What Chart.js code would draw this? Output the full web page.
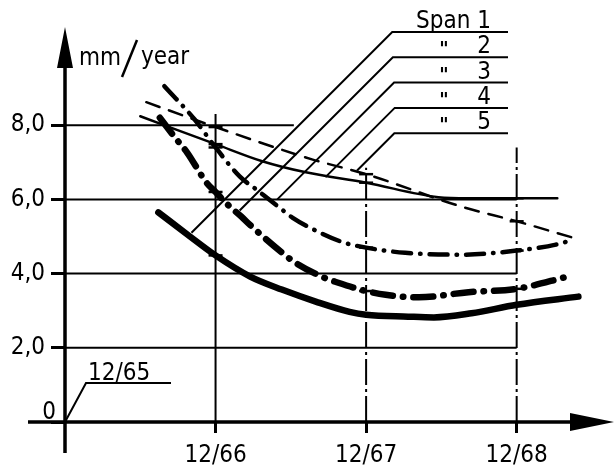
<!DOCTYPE html>
<html lang="en">
<head>
<meta charset="UTF-8">
<script src="https://cdn.jsdelivr.net/npm/chart.js"></script>
<style>
  body { margin: 0; background: #fff; }
  .wrap { width: 616px; height: 471px; position: relative; }
</style>
</head>
<body>
<div class="wrap"><canvas id="myChart"></canvas></div>
<script>
  // years after 12/65, mm/year
  const span1X = [0.62, 0.83, 1.0, 1.23, 1.44, 1.67, 1.89, 2.0, 2.28, 2.45, 2.7, 3.0, 3.41];
  const span1Y = [5.65, 5.0, 4.49, 3.92, 3.57, 3.24, 2.97, 2.89, 2.84, 2.82, 2.93, 3.16, 3.38];
  const span2X = [0.63, 0.74, 0.81, 0.94, 1.0, 1.07, 1.17, 1.24, 1.44, 1.52, 1.72, 1.81, 2.0, 2.13, 2.35, 2.68, 3.0, 3.34];
  const span2Y = [8.2, 7.62, 7.27, 6.45, 6.2, 5.9, 5.54, 5.27, 4.57, 4.32, 3.89, 3.76, 3.53, 3.43, 3.36, 3.5, 3.59, 3.92];
  const span3X = [0.66, 0.86, 1.0, 1.16, 1.27, 1.44, 1.51, 1.69, 1.85, 2.0, 2.26, 2.64, 3.0, 3.26, 3.38];
  const span3Y = [9.05, 8.16, 7.4, 6.62, 6.27, 5.73, 5.51, 5.11, 4.84, 4.7, 4.56, 4.51, 4.62, 4.78, 4.92];
  const span4X = [0.5, 1.0, 1.31, 1.6, 2.0, 2.48, 2.68, 3.0, 3.27];
  const span4Y = [8.24, 7.49, 7.03, 6.73, 6.45, 6.06, 6.03, 6.03, 6.03];
  const span5X = [0.54, 1.0, 1.64, 2.0, 2.63, 3.0, 3.39];
  const span5Y = [8.62, 7.95, 7.08, 6.68, 5.81, 5.41, 4.95];

  const spanNames = ['Span 1', 'Span 2', 'Span 3', 'Span 4', 'Span 5'];
  const yTicks = [0, 2, 4, 6, 8];
  const yTickLabels = ['0', '2,0', '4,0', '6,0', '8,0'];
  const xTicks = [1, 2, 3];
  const xTickLabels = ['12/66', '12/67', '12/68'];
  const originLabel = '12/65';
  const unitLabel = ['mm', 'year'];

  const FONT = "'DejaVu Sans Condensed', 'Liberation Sans Narrow', 'DejaVu Sans', sans-serif";
  const pts = (xs, ys) => xs.map((x, i) => ({ x: x, y: ys[i] }));
  const crossAtYear = c => Number.isInteger(c.raw.x) ? 7 : 0;

  const styles = [
    { borderWidth: 6.5, borderDash: [] },
    { borderWidth: 6.5, borderDash: [20, 10, 0.5, 10] },
    { borderWidth: 4.5, borderDash: [18, 9, 0.5, 9] },
    { borderWidth: 2.5, borderDash: [] },
    { borderWidth: 2.5, borderDash: [14, 10] }
  ];
  const series = [pts(span1X, span1Y), pts(span2X, span2Y), pts(span3X, span3Y), pts(span4X, span4Y), pts(span5X, span5Y)];

  // custom grid lines, axes with arrows, unit label, legend with leaders
  const drawing = {
    id: 'drawing',
    beforeDatasetsDraw(chart) {
      const c = chart.ctx, x = chart.scales.x, y = chart.scales.y;
      c.save();
      c.strokeStyle = '#000';
      c.lineWidth = 2;
      const hEnd = { 2: 3, 4: 3, 6: 3, 8: 1.52 };
      [2, 4, 6, 8].forEach(v => {
        c.beginPath();
        c.moveTo(x.getPixelForValue(0), y.getPixelForValue(v));
        c.lineTo(x.getPixelForValue(hEnd[v]), y.getPixelForValue(v));
        c.stroke();
      });
      const vTop = { 1: 8.3, 2: 6.85, 3: 7.4 };
      xTicks.forEach(v => {
        c.setLineDash(v === 1 ? [] : [26, 4, 3, 4]);
        c.beginPath();
        c.moveTo(x.getPixelForValue(v), y.getPixelForValue(0));
        c.lineTo(x.getPixelForValue(v), y.getPixelForValue(vTop[v]));
        c.stroke();
      });
      c.restore();
    },
    afterDraw(chart) {
      const c = chart.ctx, x = chart.scales.x, y = chart.scales.y;
      const ox = x.getPixelForValue(0), oy = y.getPixelForValue(0);
      c.save();
      c.fillStyle = '#000';
      c.strokeStyle = '#000';
      // axes
      c.lineWidth = 3.5;
      c.beginPath();
      c.moveTo(ox, oy + 31); c.lineTo(ox, 60);
      c.moveTo(28, oy); c.lineTo(575, oy);
      c.stroke();
      c.beginPath();
      c.moveTo(ox, 27); c.lineTo(ox - 8, 68); c.lineTo(ox + 8, 68); c.closePath();
      c.moveTo(614, oy); c.lineTo(570, oy - 9); c.lineTo(570, oy + 9); c.closePath();
      c.fill();

      c.font = '24px ' + FONT;
      c.textBaseline = 'alphabetic';
      // zero label sits above the x axis
      c.textAlign = 'right';
      c.fillText(yTickLabels[0], 56, oy - 3);

      // unit label
      c.textAlign = 'left';
      c.fillText(unitLabel[0], 79, 65);
      c.fillText(unitLabel[1], 141, 64);
      c.lineWidth = 2.5;
      c.beginPath(); c.moveTo(122, 77); c.lineTo(137, 40); c.stroke();

      // 12/65 label at origin
      c.lineWidth = 2;
      c.beginPath();
      c.moveTo(ox, oy); c.lineTo(86, 383); c.lineTo(171, 383);
      c.stroke();
      c.fillText(originLabel, 88, 380);

      // legend with leaders
      const anchors = [[0.84, 5.1], [1.16, 5.7], [1.41, 6.0], [1.73, 6.6], [1.94, 6.78]];
      anchors.forEach((a, i) => {
        const px = x.getPixelForValue(a[0]), py = y.getPixelForValue(a[1]);
        const uy = 32 + i * 25.3;
        c.lineWidth = 2;
        c.beginPath();
        c.moveTo(px, py); c.lineTo(px + (py - uy), uy); c.lineTo(508, uy);
        c.stroke();
        c.textAlign = 'right';
        if (i === 0) {
          c.fillText(spanNames[0], 491, uy - 4);
        } else {
          c.fillText(spanNames[i].split(' ')[1], 491, uy - 4);
          c.textAlign = 'center';
          c.font = 'bold 20px ' + FONT;
          c.fillText('"', 444, uy - 2);
          c.font = '24px ' + FONT;
        }
      });
      c.restore();
    }
  };

  const ctx = document.getElementById('myChart').getContext('2d');
  const chart = new Chart(ctx, {
    type: 'scatter',
    data: {
      datasets: series.map((d, i) => ({
        label: spanNames[i],
        data: d,
        showLine: true,
        borderColor: '#000',
        borderWidth: styles[i].borderWidth,
        borderDash: styles[i].borderDash,
        borderCapStyle: 'round',
        cubicInterpolationMode: 'monotone',
        pointStyle: 'line',
        pointRadius: crossAtYear,
        pointHoverRadius: crossAtYear,
        pointBorderColor: '#000',
        pointBorderWidth: 2.5
      }))
    },
    options: {
      responsive: true,
      maintainAspectRatio: false,
      animation: false,
      clip: false,
      layout: { padding: { top: 51, right: 9, left: 0, bottom: 0 } },
      plugins: { legend: { display: false }, tooltip: { enabled: false } },
      scales: {
        x: {
          type: 'linear',
          min: 0,
          max: 3.6,
          afterBuildTicks: s => { s.ticks = xTicks.map(v => ({ value: v })); },
          afterFit: s => { s.height = 49; },
          border: { display: false },
          grid: { drawOnChartArea: false, tickLength: 11, tickWidth: 3, tickColor: '#000' },
          ticks: {
            color: '#000',
            padding: 8,
            maxRotation: 0,
            font: { family: FONT, size: 24 },
            callback: v => xTickLabels[xTicks.indexOf(v)]
          }
        },
        y: {
          type: 'linear',
          min: 0,
          max: 10,
          afterBuildTicks: s => { s.ticks = yTicks.map(v => ({ value: v })); },
          afterFit: s => { s.width = 65; },
          border: { display: false },
          grid: { drawOnChartArea: false, tickLength: 14, tickWidth: 3, tickColor: '#000' },
          ticks: {
            color: '#000',
            padding: 6,
            font: { family: FONT, size: 24 },
            callback: v => v === 0 ? '' : yTickLabels[yTicks.indexOf(v)]
          }
        }
      }
    },
    plugins: [drawing]
  });
</script>
</body>
</html>
